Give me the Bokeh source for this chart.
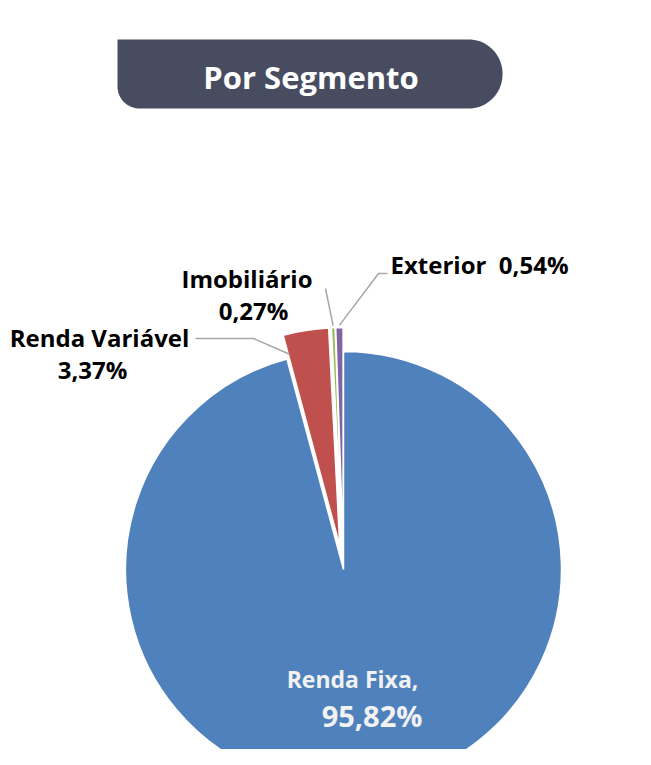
import numpy as np
from bokeh.plotting import figure
from bokeh.models import Range1d, ColumnDataSource
from bokeh.core.properties import value
from bokeh.embed import file_html
from bokeh.resources import INLINE

# ---------------- data ----------------
title_text = "Por Segmento"
segments = ["Renda Fixa", "Renda Variável", "Imobiliário", "Exterior"]
shares = [95.82, 3.37, 0.27, 0.54]
share_labels = ["95,82%", "3,37%", "0,27%", "0,54%"]

# ---------------- style ----------------
colors = ["#4F81BD", "#C0504D", "#9BBB59", "#8064A2"]
explode = [0, 24, 24, 24]
W, H = 635, 749
FONT = value("Open Sans")
TXT_DY = 11  # renderer baseline correction


def py(Y):
    # picture pixel row -> data y
    return 757 - Y


def ty(Y):
    return py(Y) + TXT_DY


p = figure(width=W, height=H, x_range=Range1d(0, W), y_range=Range1d(8, 8 + H),
           output_backend="svg", toolbar_location=None, min_border=0,
           outline_line_color=None, background_fill_color="white",
           border_fill_color="white")
p.axis.visible = False
p.grid.visible = False

# ---------------- title box ----------------
L, R_, T, B = 117, 502, 39, 108
r_tr, r_br, r_bl = 34, 34, 22
pts = [(L, T)]
for cx, cy, r, a0, a1 in [(R_ - r_tr, T + r_tr, r_tr, -90, 0),
                          (R_ - r_br, B - r_br, r_br, 0, 90),
                          (L + r_bl, B - r_bl, r_bl, 90, 180)]:
    for a in np.linspace(np.radians(a0), np.radians(a1), 20):
        pts.append((cx + r * np.cos(a), cy + r * np.sin(a)))
bx = [q[0] for q in pts]
by = [py(q[1]) for q in pts]
p.patch(bx, by, fill_color="#484C61", line_color=None)
p.text(x=[(L + R_) / 2 + 1], y=[ty(87)], text=[title_text], text_font=FONT,
       text_font_style="bold", text_font_size="31px", text_color="white",
       text_align="center", text_baseline="alphabetic")

# ---------------- pie ----------------
C0x, C0y = 343, py(569)
RAD = 218
frac = np.array(shares) / sum(shares)
cum = np.concatenate([[0], np.cumsum(frac)])
start = np.pi / 2 - 2 * np.pi * cum[:-1]
end = np.pi / 2 - 2 * np.pi * cum[1:]
mid = (start + end) / 2
cx = C0x + np.array(explode) * np.cos(mid)
cy = C0y + np.array(explode) * np.sin(mid)

src = ColumnDataSource(dict(x=cx, y=cy, start=start, end=end, color=colors, name=segments))
p.wedge(x="x", y="y", radius=RAD, start_angle="start", end_angle="end",
        direction="clock", fill_color="color", line_color="white", line_width=1.5,
        source=src)

# ---------------- leader lines ----------------
lead_col = "#A6A6A6"
a_r = start[1] - 0.004
ex_r, ey_r = cx[1] + 0.91 * RAD * np.cos(a_r), cy[1] + 0.91 * RAD * np.sin(a_r)
p.line([195, 253, ex_r], [py(338), py(338), ey_r], line_color=lead_col, line_width=1.5)
ex_g, ey_g = cx[2] + 1.01 * RAD * np.cos(mid[2]), cy[2] + 1.01 * RAD * np.sin(mid[2])
p.line([325, ex_g], [py(288), ey_g], line_color=lead_col, line_width=1.5)
ex_p, ey_p = cx[3] + 1.01 * RAD * np.cos(mid[3]), cy[3] + 1.01 * RAD * np.sin(mid[3])
p.line([387, 378, ex_p], [py(273), py(273), ey_p], line_color=lead_col, line_width=1.5)

# ---------------- labels ----------------
lab_x = [99, 92, 246.5, 253]
lab_y = [ty(348), ty(380), ty(289), ty(321)]
lab_t = [segments[1], share_labels[1], segments[2], share_labels[2]]
p.text(x=lab_x, y=lab_y, text=lab_t, text_font=FONT, text_font_style="bold",
       text_font_size="24px", text_color="black", text_align="center",
       text_baseline="alphabetic")
p.text(x=[390], y=[ty(275)], text=[segments[3] + " \u00a0" + share_labels[3]], text_font=FONT,
       text_font_style="bold", text_font_size="24px", text_color="black",
       text_align="left", text_baseline="alphabetic")
p.text(x=[352], y=[ty(689)], text=[segments[0] + ","], text_font=FONT,
       text_font_style="bold", text_font_size="23px", text_color="#F2F2F2",
       text_align="center", text_baseline="alphabetic")
p.text(x=[371.5], y=[ty(726)], text=[share_labels[0]], text_font=FONT,
       text_font_style="bold", text_font_size="29px", text_color="#F2F2F2",
       text_align="center", text_baseline="alphabetic")

open("out.html", "w").write(file_html(p, INLINE))
